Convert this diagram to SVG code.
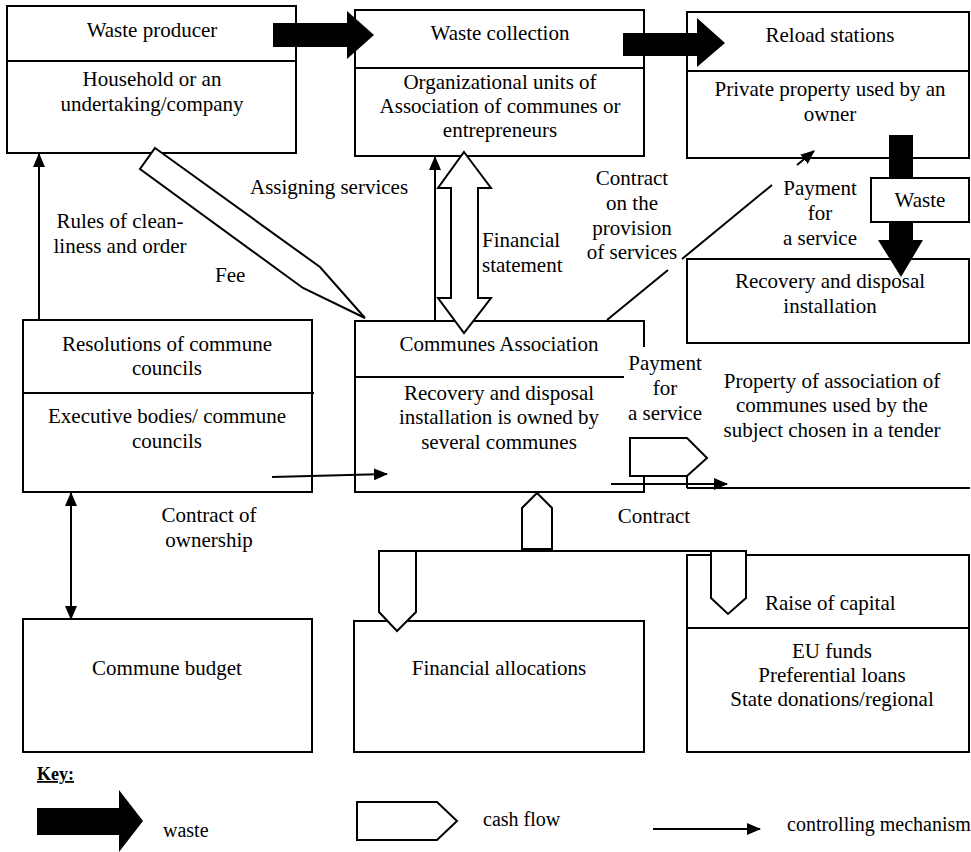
<svg xmlns="http://www.w3.org/2000/svg" width="971" height="852" viewBox="0 0 971 852">
<style>
.box{fill:#fff;stroke:#000;stroke-width:2}
.ln{fill:none;stroke:#000;stroke-width:2}
.cash{fill:#fff;stroke:#000;stroke-width:2;stroke-linejoin:miter}
.waste{fill:#000;stroke:none}
.t{font-family:"Liberation Serif","Times New Roman",serif;font-size:21px;fill:#000}
.c{text-anchor:middle}
.ctl{fill:none;stroke:#000;stroke-width:2;marker-end:url(#ah)}
</style>
<defs>
<marker id="ah" markerWidth="14" markerHeight="12" refX="13" refY="6" orient="auto-start-reverse" markerUnits="userSpaceOnUse"><path d="M0,0 L14,6 L0,12 z" fill="#000"/></marker>
</defs>
<rect width="971" height="852" fill="#fff"/>

<g id="waste-producer">
<rect class="box" x="7" y="6" width="289" height="147"/>
<line class="ln" x1="7" y1="61" x2="296" y2="61"/>
<text class="t c" x="152" y="37">Waste producer</text>
<text class="t c" x="152" y="86">Household or an</text>
<text class="t c" x="152" y="111">undertaking/company</text>
</g>

<g id="waste-collection">
<rect class="box" x="355" y="10" width="289" height="146"/>
<line class="ln" x1="355" y1="68" x2="644" y2="68"/>
<text class="t c" x="500" y="40">Waste collection</text>
<text class="t c" x="500" y="89">Organizational units of</text>
<text class="t c" x="500" y="113">Association of communes or</text>
<text class="t c" x="500" y="137">entrepreneurs</text>
</g>

<g id="reload-stations">
<rect class="box" x="687" y="12" width="282" height="146"/>
<line class="ln" x1="687" y1="71" x2="969" y2="71"/>
<text class="t c" x="830" y="42">Reload stations</text>
<text class="t c" x="830" y="96">Private property used by an</text>
<text class="t c" x="830" y="121">owner</text>
</g>

<g id="recovery-installation">
<rect class="box" x="687" y="259" width="282" height="84"/>
<text class="t c" x="830" y="288">Recovery and disposal</text>
<text class="t c" x="830" y="313">installation</text>
<line class="ln" x1="687" y1="488" x2="970" y2="488"/>
<line class="ln" x1="687" y1="476" x2="687" y2="488"/>
<text class="t c" x="832" y="388">Property of association of</text>
<text class="t c" x="832" y="412">communes used by the</text>
<text class="t c" x="832" y="437">subject chosen in a tender</text>
</g>

<g id="resolutions">
<rect class="box" x="23" y="320" width="289" height="172"/>
<line class="ln" x1="23" y1="393" x2="314" y2="393"/>
<text class="t c" x="167" y="351">Resolutions of commune</text>
<text class="t c" x="167" y="375">councils</text>
<text class="t c" x="167" y="423">Executive bodies/ commune</text>
<text class="t c" x="167" y="448">councils</text>
</g>

<g id="communes-association">
<path class="ln" d="M644,347 L644,321 L355,321 L355,492 L644,492 L644,476"/>
<line class="ln" x1="355" y1="377" x2="624" y2="377"/>
<text class="t c" x="499" y="351">Communes Association</text>
<text class="t c" x="499" y="400">Recovery and disposal</text>
<text class="t c" x="499" y="424">installation is owned by</text>
<text class="t c" x="499" y="449">several communes</text>
</g>

<g id="commune-budget">
<rect class="box" x="23" y="619" width="289" height="133"/>
<text class="t c" x="167" y="675">Commune budget</text>
</g>

<g id="financial-allocations">
<rect class="box" x="354" y="621" width="290" height="131"/>
<text class="t c" x="499" y="675">Financial allocations</text>
</g>

<g id="raise-of-capital">
<rect class="box" x="687" y="555" width="282" height="197"/>
<line class="ln" x1="687" y1="628" x2="969" y2="628"/>
<text class="t" x="765" y="610">Raise of capital</text>
<text class="t c" x="832" y="658">EU funds</text>
<text class="t c" x="832" y="682">Preferential loans</text>
<text class="t c" x="832" y="706">State donations/regional</text>
</g>

<g id="connectors">
<polygon class="waste" points="273,23 347,23 347,11 374,35 347,59 347,47 273,47"/>
<polygon class="waste" points="623,33 697,33 697,18 725,43 697,67 697,56 623,56"/>
<polygon class="waste" points="889,135 913,135 913,240 923,240 901,277 878,240 889,240"/>
<g id="waste-label">
<rect class="box" x="871" y="178" width="98" height="44"/>
<text class="t c" x="920" y="207">Waste</text>
</g>

<polygon class="cash" points="155,148 320,267 365,318 303,288 140,169"/>
<polygon class="cash" points="464,152 491,188 478,188 478,298 491,298 464,333 438,298 451,298 451,188 438,188"/>
<polygon class="cash" points="630,438 687,438 707,458 687,476 630,476"/>
<line class="ln" x1="378" y1="551" x2="746" y2="551"/>
<polygon class="cash" points="522,549 522,508 537,493 552,508 552,549"/>
<polygon class="cash" points="379,551 379,612 397,631 416,612 416,551"/>
<polygon class="cash" points="711,551 711,598 728,614 746,598 746,551"/>

<line class="ctl" x1="39" y1="320" x2="39" y2="154"/>
<line class="ctl" x1="435" y1="322" x2="435" y2="157"/>
<line class="ctl" x1="272" y1="477" x2="387" y2="474"/>
<line class="ctl" x1="611" y1="484" x2="727" y2="484"/>
<line class="ctl" x1="71" y1="493" x2="71" y2="619" style="marker-start:url(#ah)"/>
<line class="ln" x1="607" y1="320" x2="668" y2="270"/>
<line class="ln" x1="682" y1="259" x2="772" y2="185"/>
<line class="ctl" x1="797" y1="165" x2="814" y2="151"/>

<text class="t" x="250" y="194">Assigning services</text>
<text class="t c" x="120" y="228">Rules of clean-</text>
<text class="t c" x="120" y="253">liness and order</text>
<text class="t" x="215" y="282">Fee</text>
<text class="t" x="482" y="247">Financial</text>
<text class="t" x="482" y="272">statement</text>
<text class="t c" x="632" y="185">Contract</text>
<text class="t c" x="632" y="210">on the</text>
<text class="t c" x="632" y="235">provision</text>
<text class="t c" x="632" y="259">of services</text>
<text class="t c" x="820" y="195">Payment</text>
<text class="t c" x="820" y="220">for</text>
<text class="t c" x="820" y="245">a service</text>
<text class="t c" x="665" y="370">Payment</text>
<text class="t c" x="665" y="395">for</text>
<text class="t c" x="665" y="420">a service</text>
<text class="t c" x="209" y="522">Contract of</text>
<text class="t c" x="209" y="547">ownership</text>
<text class="t c" x="654" y="523">Contract</text>
</g>

<g id="key">
<text class="t" x="37" y="780" style="font-weight:bold;text-decoration:underline;font-size:18px">Key:</text>
<polygon class="waste" points="37,808 119,808 119,790 143,821 119,852 119,835 37,835"/>
<text class="t" x="163" y="837" style="font-size:20px">waste</text>
<polygon class="cash" points="357,802 437,802 457,821 437,840 357,840"/>
<text class="t" x="483" y="826" style="font-size:20px">cash flow</text>
<line class="ctl" x1="653" y1="829" x2="760" y2="829"/>
<text class="t" x="787" y="831" style="font-size:20px">controlling mechanism</text>
</g>
</svg>
